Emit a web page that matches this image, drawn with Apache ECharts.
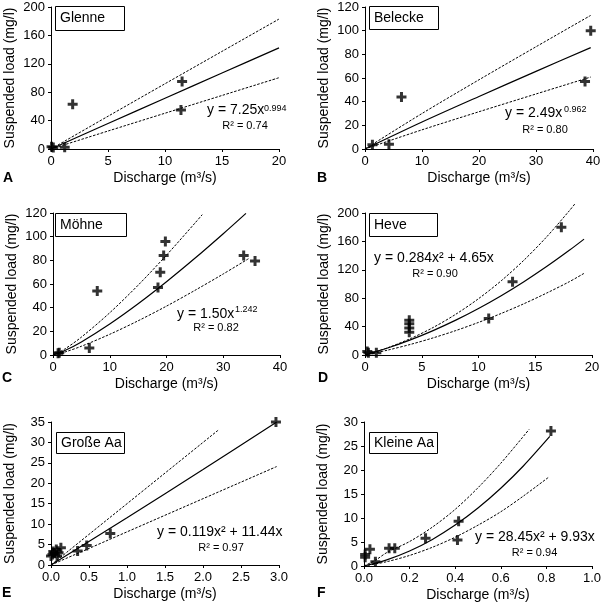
<!DOCTYPE html>
<html>
<head>
<meta charset="utf-8">
<script src="https://cdn.jsdelivr.net/npm/echarts@6/dist/echarts.min.js"></script>
<style>
html,body{margin:0;padding:0;background:#fff;}
#chart{width:604px;height:605px;}
</style>
</head>
<body>
<div id="chart"></div>
<script>
// ---------- data ----------
const panelNames = ['Glenne', 'Belecke', 'Möhne', 'Heve', 'Große Aa', 'Kleine Aa'];
const panelLetters = ['A', 'B', 'C', 'D', 'E', 'F'];

const xMax = [20, 40, 40, 20, 3, 1];
const xInterval = [5, 10, 10, 5, 0.5, 0.2];
const yMax = [200, 120, 120, 200, 35, 30];
const yInterval = [40, 20, 20, 40, 5, 5];

const xTickLabels = [
  ['0', '5', '10', '15', '20'],
  ['0', '10', '20', '30', '40'],
  ['0', '10', '20', '30', '40'],
  ['0', '5', '10', '15', '20'],
  ['0.0', '0.5', '1.0', '1.5', '2.0', '2.5', '3.0'],
  ['0.0', '0.2', '0.4', '0.6', '0.8', '1.0']
];
const yTickLabels = [
  ['0', '40', '80', '120', '160', '200'],
  ['0', '20', '40', '60', '80', '100', '120'],
  ['0', '20', '40', '60', '80', '100', '120'],
  ['0', '40', '80', '120', '160', '200'],
  ['0', '5', '10', '15', '20', '25', '30', '35'],
  ['0', '5', '10', '15', '20', '25', '30']
];

// A Glenne
const glenneObs = [[0.05, 3], [0.2, 2], [1.2, 2.5], [1.9, 63], [11.4, 55], [11.5, 95]];
const glenneFit = [[0, 0], [5, 35.9], [10, 71.5], [15, 107.0], [20, 142.4]];
const glenneUpper = [[0, 0], [5, 46.1], [10, 91.9], [15, 137.5], [20, 183]];
const glenneLower = [[0, 0], [5, 25.3], [10, 50.4], [15, 75.4], [20, 100.4]];

// B Belecke
const beleckeObs = [[1.3, 3.5], [4.2, 4], [6.4, 44], [38.6, 57], [39.6, 100]];
const beleckeFit = [[0, 0], [10, 22.8], [20, 44.4], [30, 65.6], [39.6, 85.7]];
const beleckeUpper = [[0, 0], [10, 30.0], [20, 58.5], [30, 86.4], [39.6, 112.9]];
const beleckeLower = [[0, 0], [10, 16.2], [20, 31.5], [30, 46.5], [39.6, 60.8]];

// C Möhne
const moehneObs = [[0.9, 1.5], [1.1, 2], [6.4, 6], [7.8, 54], [18.5, 57], [18.9, 70], [19.5, 84], [19.8, 96], [33.6, 84], [35.6, 79.5]];
const moehneFit = [[0, 0], [2, 3.55], [5, 11.07], [10, 26.2], [15, 43.3], [20, 61.9], [25, 81.7], [30, 102.5], [34, 119.7]];
const moehneUpper = [[0, 0], [2, 4.84], [5, 15.1], [10, 35.7], [15, 59.0], [20, 84.4], [25, 111.4], [26.3, 118.6]];
const moehneLower = [[0, 0], [2, 2.37], [5, 7.39], [10, 17.5], [15, 28.9], [20, 41.3], [25, 54.6], [30, 68.5], [34.6, 81.8]];

// D Heve
const heveObs = [[0.2, 5], [0.3, 3], [1.0, 3], [3.9, 32], [3.9, 38], [3.9, 44], [3.9, 49], [10.9, 51.5], [13.0, 103], [17.3, 180]];
const heveFit = [[0, 0], [2, 9.8], [4, 21.3], [6, 34.4], [8, 49.1], [10, 65.5], [12, 83.5], [14, 103.2], [16, 124.5], [18, 147.4], [19.3, 163.2]];
const heveUpper = [[0, 0], [2, 10.2], [4, 23.1], [6, 38.7], [8, 57.4], [10, 79.3], [12, 104.5], [14, 133.5], [16, 166.3], [18, 203.1], [18.5, 213]];
const heveLower = [[0, 0], [2, 6.9], [4, 14.9], [6, 24.1], [8, 34.4], [10, 45.9], [12, 58.5], [14, 72.2], [16, 87.2], [18, 103.2], [19.3, 115]];

// E Große Aa
const grosseObs = [[0.0, 2.2], [0.02, 2.6], [0.03, 3.3], [0.05, 2.9], [0.07, 3.8], [0.08, 2.2], [0.1, 3.0], [0.13, 4.2], [0.35, 3.4], [0.47, 4.8], [0.78, 7.7], [2.96, 35]];
const grosseFit = [[0, 0], [1, 11.56], [2, 23.36], [2.97, 35.0]];
const grosseUpper = [[0, 0], [2.2, 33]];
const grosseLower = [[0, 0], [2.97, 24.1]];

// F Kleine Aa
const kleineObs = [[0.005, 1.8], [0.005, 2.4], [0.026, 3.5], [0.05, 0.9], [0.11, 3.7], [0.135, 3.7], [0.27, 5.8], [0.41, 5.4], [0.415, 9.3], [0.82, 28.1]];
const kleineFit = [[0, 0], [0.1, 1.28], [0.2, 3.12], [0.3, 5.54], [0.4, 8.52], [0.5, 12.08], [0.6, 16.2], [0.7, 20.89], [0.815, 26.99]];
const kleineUpper = [[0, 0], [0.05, 1.2], [0.1, 2.8], [0.2, 5.1], [0.3, 8.1], [0.4, 11.8], [0.5, 16.3], [0.6, 21.4], [0.725, 28.5]];
const kleineLower = [[0, 0], [0.1, 0.9], [0.2, 2.2], [0.3, 3.9], [0.4, 6.0], [0.5, 8.5], [0.6, 11.3], [0.7, 14.6], [0.81, 18.5]];

const equations = ['y = 7.25x', 'y = 2.49x', 'y = 1.50x', 'y = 0.284x² + 4.65x', 'y = 0.119x² + 11.44x', 'y = 28.45x² + 9.93x'];
const exponents = ['0.994', '0.962', '1.242', '', '', ''];
const rSquared = ['R² = 0.74', 'R² = 0.80', 'R² = 0.82', 'R² = 0.90', 'R² = 0.97', 'R² = 0.94'];

const obsSets = [glenneObs, beleckeObs, moehneObs, heveObs, grosseObs, kleineObs];
const fitSets = [glenneFit, beleckeFit, moehneFit, heveFit, grosseFit, kleineFit];
const upperSets = [glenneUpper, beleckeUpper, moehneUpper, heveUpper, grosseUpper, kleineUpper];
const lowerSets = [glenneLower, beleckeLower, moehneLower, heveLower, grosseLower, kleineLower];

// ---------- layout (px) ----------
const grids = [
  {left: 51, top: 7, width: 228, height: 142},
  {left: 365, top: 7, width: 228, height: 142},
  {left: 53, top: 213, width: 227, height: 142},
  {left: 365, top: 213, width: 227, height: 142},
  {left: 51, top: 422, width: 228, height: 143},
  {left: 364, top: 422, width: 229, height: 144}
];
const boxes = [
  {x: 55, y: 6, w: 69, h: 24},
  {x: 369, y: 6, w: 69, h: 23},
  {x: 55, y: 213, w: 71, h: 23},
  {x: 369, y: 213, w: 68, h: 23},
  {x: 56, y: 432, w: 68, h: 21},
  {x: 369, y: 432, w: 68, h: 21}
];
const eqPos = [
  {x: 207, y: 110.5, sx: 264, sy: 108.5, rx: 245, ry: 126},
  {x: 505, y: 112.7, sx: 564, sy: 110, rx: 545, ry: 130},
  {x: 177, y: 314.5, sx: 235, sy: 310, rx: 216, ry: 328},
  {x: 374, y: 258, sx: 0, sy: 0, rx: 435, ry: 274},
  {x: 157, y: 532.5, sx: 0, sy: 0, rx: 221, ry: 547.5},
  {x: 475, y: 537.5, sx: 0, sy: 0, rx: 534.5, ry: 553}
];
const letterPos = [
  {x: 3, y: 178}, {x: 317, y: 178}, {x: 2, y: 378}, {x: 318, y: 378}, {x: 2, y: 593}, {x: 317, y: 593}
];

const FONT = '"Liberation Sans", Arial, Helvetica, sans-serif';
const plusPath = 'path://M3.5,0h3v3.5h3.5v3h-3.5v3.5h-3v-3.5h-3.5v-3h3.5z';

const option = {
  animation: false,
  backgroundColor: '#fff',
  grid: [], xAxis: [], yAxis: [], series: [], graphic: []
};

for (let i = 0; i < 6; i++) {
  option.grid.push(Object.assign({containLabel: false}, grids[i]));
  const xl = xTickLabels[i], yl = yTickLabels[i];
  option.xAxis.push({
    gridIndex: i, type: 'value', min: 0, max: xMax[i], interval: xInterval[i],
    axisLine: {show: true, onZero: false, lineStyle: {color: '#000', width: 1}},
    axisTick: {show: true, length: 3, lineStyle: {color: '#000', width: 1}},
    axisLabel: {color: '#000', fontSize: 13, fontFamily: FONT, margin: 6,
      formatter: (v, idx) => xl[Math.round(v / xInterval[i])]},
    splitLine: {show: false},
    name: 'Discharge (m³/s)', nameLocation: 'middle', nameGap: 22,
    nameTextStyle: {color: '#000', fontSize: 14, fontFamily: FONT}
  });
  option.yAxis.push({
    gridIndex: i, type: 'value', min: 0, max: yMax[i], interval: yInterval[i],
    axisLine: {show: true, onZero: false, lineStyle: {color: '#000', width: 1}},
    axisTick: {show: true, length: 3, lineStyle: {color: '#000', width: 1}},
    axisLabel: {color: '#000', fontSize: 13, fontFamily: FONT, margin: 6,
      formatter: (v, idx) => yl[Math.round(v / yInterval[i])]},
    splitLine: {show: false},
    name: 'Suspended load (mg/l)', nameLocation: 'middle', nameGap: 34, nameRotate: 90,
    nameTextStyle: {color: '#000', fontSize: 14, fontFamily: FONT}
  });
  option.series.push({
    type: 'line', xAxisIndex: i, yAxisIndex: i, data: upperSets[i], symbol: 'none', smooth: 0.3, clip: false,
    lineStyle: {color: '#000', width: 1, type: [2.5, 1.5]}, z: 2
  });
  option.series.push({
    type: 'line', xAxisIndex: i, yAxisIndex: i, data: lowerSets[i], symbol: 'none', smooth: 0.3, clip: false,
    lineStyle: {color: '#000', width: 1, type: [2.5, 1.5]}, z: 2
  });
  option.series.push({
    type: 'line', xAxisIndex: i, yAxisIndex: i, data: fitSets[i], symbol: 'none', smooth: 0.3, clip: false,
    lineStyle: {color: '#000', width: 1.2}, z: 3
  });
  option.series.push({
    type: 'scatter', xAxisIndex: i, yAxisIndex: i, data: obsSets[i], symbol: plusPath, symbolSize: 10,
    itemStyle: {color: '#000'}, z: 4
  });

  const b = boxes[i];
  option.graphic.push({
    type: 'rect', shape: {x: b.x + 0.5, y: b.y + 0.5, width: b.w, height: b.h},
    style: {fill: '#fff', stroke: '#000', lineWidth: 1}, z: 10
  });
  option.graphic.push({
    type: 'text', x: b.x + 5, y: b.y + b.h / 2 + 0.5, z: 11,
    style: {text: panelNames[i], font: '14px ' + FONT, fill: '#000', textAlign: 'left', textVerticalAlign: 'middle'}
  });
  const e = eqPos[i];
  option.graphic.push({
    type: 'text', x: e.x, y: e.y, z: 11,
    style: {text: equations[i], font: '14px ' + FONT, fill: '#000', textAlign: 'left', textVerticalAlign: 'middle'}
  });
  if (exponents[i]) {
    option.graphic.push({
      type: 'text', x: e.sx, y: e.sy, z: 11,
      style: {text: exponents[i], font: '9px ' + FONT, fill: '#000', textAlign: 'left', textVerticalAlign: 'middle'}
    });
  }
  option.graphic.push({
    type: 'text', x: e.rx, y: e.ry, z: 11,
    style: {text: rSquared[i], font: '11px ' + FONT, fill: '#000', textAlign: 'center', textVerticalAlign: 'middle'}
  });
  const l = letterPos[i];
  option.graphic.push({
    type: 'text', x: l.x, y: l.y, z: 11,
    style: {text: panelLetters[i], font: 'bold 14px ' + FONT, fill: '#000', textAlign: 'left', textVerticalAlign: 'middle'}
  });
}

const chart = echarts.init(document.getElementById('chart'), null, {renderer: 'canvas'});
chart.setOption(option);
</script>
</body>
</html>
